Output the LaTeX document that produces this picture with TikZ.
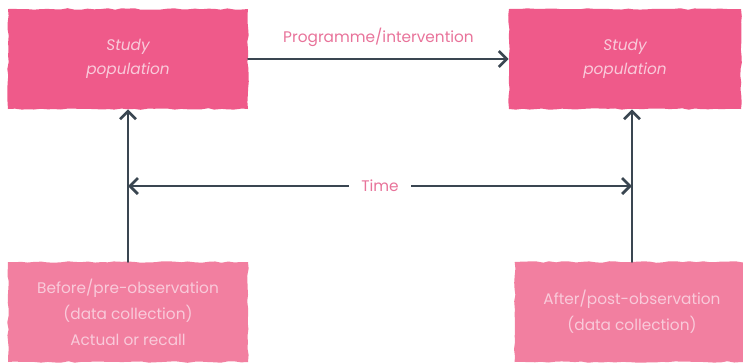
\documentclass[tikz,border=0pt]{standalone}
\usepackage{fontspec}
\setmainfont{Poppins}
\usetikzlibrary{arrows.meta,decorations.pathmorphing}
\definecolor{boxpink}{HTML}{EF5A8A}
\definecolor{lightpink}{HTML}{F27FA0}
\definecolor{textpink}{HTML}{F9CADA}
\definecolor{labelpink}{HTML}{E8739A}
\definecolor{slate}{HTML}{3A4651}
\tikzset{
  popbox/.style={fill=boxpink, minimum width=180pt, minimum height=75pt, align=center, text=textpink,
    font=\fontsize{11.5}{18}\selectfont\itshape,
    decorate, decoration={random steps, segment length=5pt, amplitude=0.6pt}},
  obsbox/.style={popbox, fill=lightpink, font=\fontsize{11.5}{19.5}\selectfont},
  link/.style={draw=slate, line width=2pt, ->},
}
\begin{document}
\begin{tikzpicture}[x=0.75pt, y=-0.75pt, line join=round, line cap=round, >={Straight Barb[length=6pt,width=12pt]}]
    \useasboundingbox (0,0) rectangle (743,362);
    \node[popbox] (sp1) at (128,59) {Study\\population};
    \node[popbox, minimum width=174pt] (sp2) at (625,59) {Study\\population};
    \node[obsbox] (pre) at (128,312) {Before/pre-observation\\(data collection)\\Actual or recall};
    \node[obsbox, minimum width=176pt] (post) at (632,312) {After/post-observation\\(data collection)};
    \coordinate (tl) at (128,186);
    \coordinate (tr) at (632,186);
    \draw[link] (sp1.east) -- node[above=5pt, text=labelpink, font=\fontsize{11.5}{12}\selectfont] {Programme/intervention} (sp2.west);
    \draw[link] (pre.north) -- (sp1.south);
    \draw[link] (post.north) -- (post.north |- sp2.south);
    \draw[link, <->] (tl) -- node[fill=white, text=labelpink, inner xsep=9pt, font=\fontsize{11.5}{12}\selectfont] {Time} (tr);
\end{tikzpicture}
\end{document}
